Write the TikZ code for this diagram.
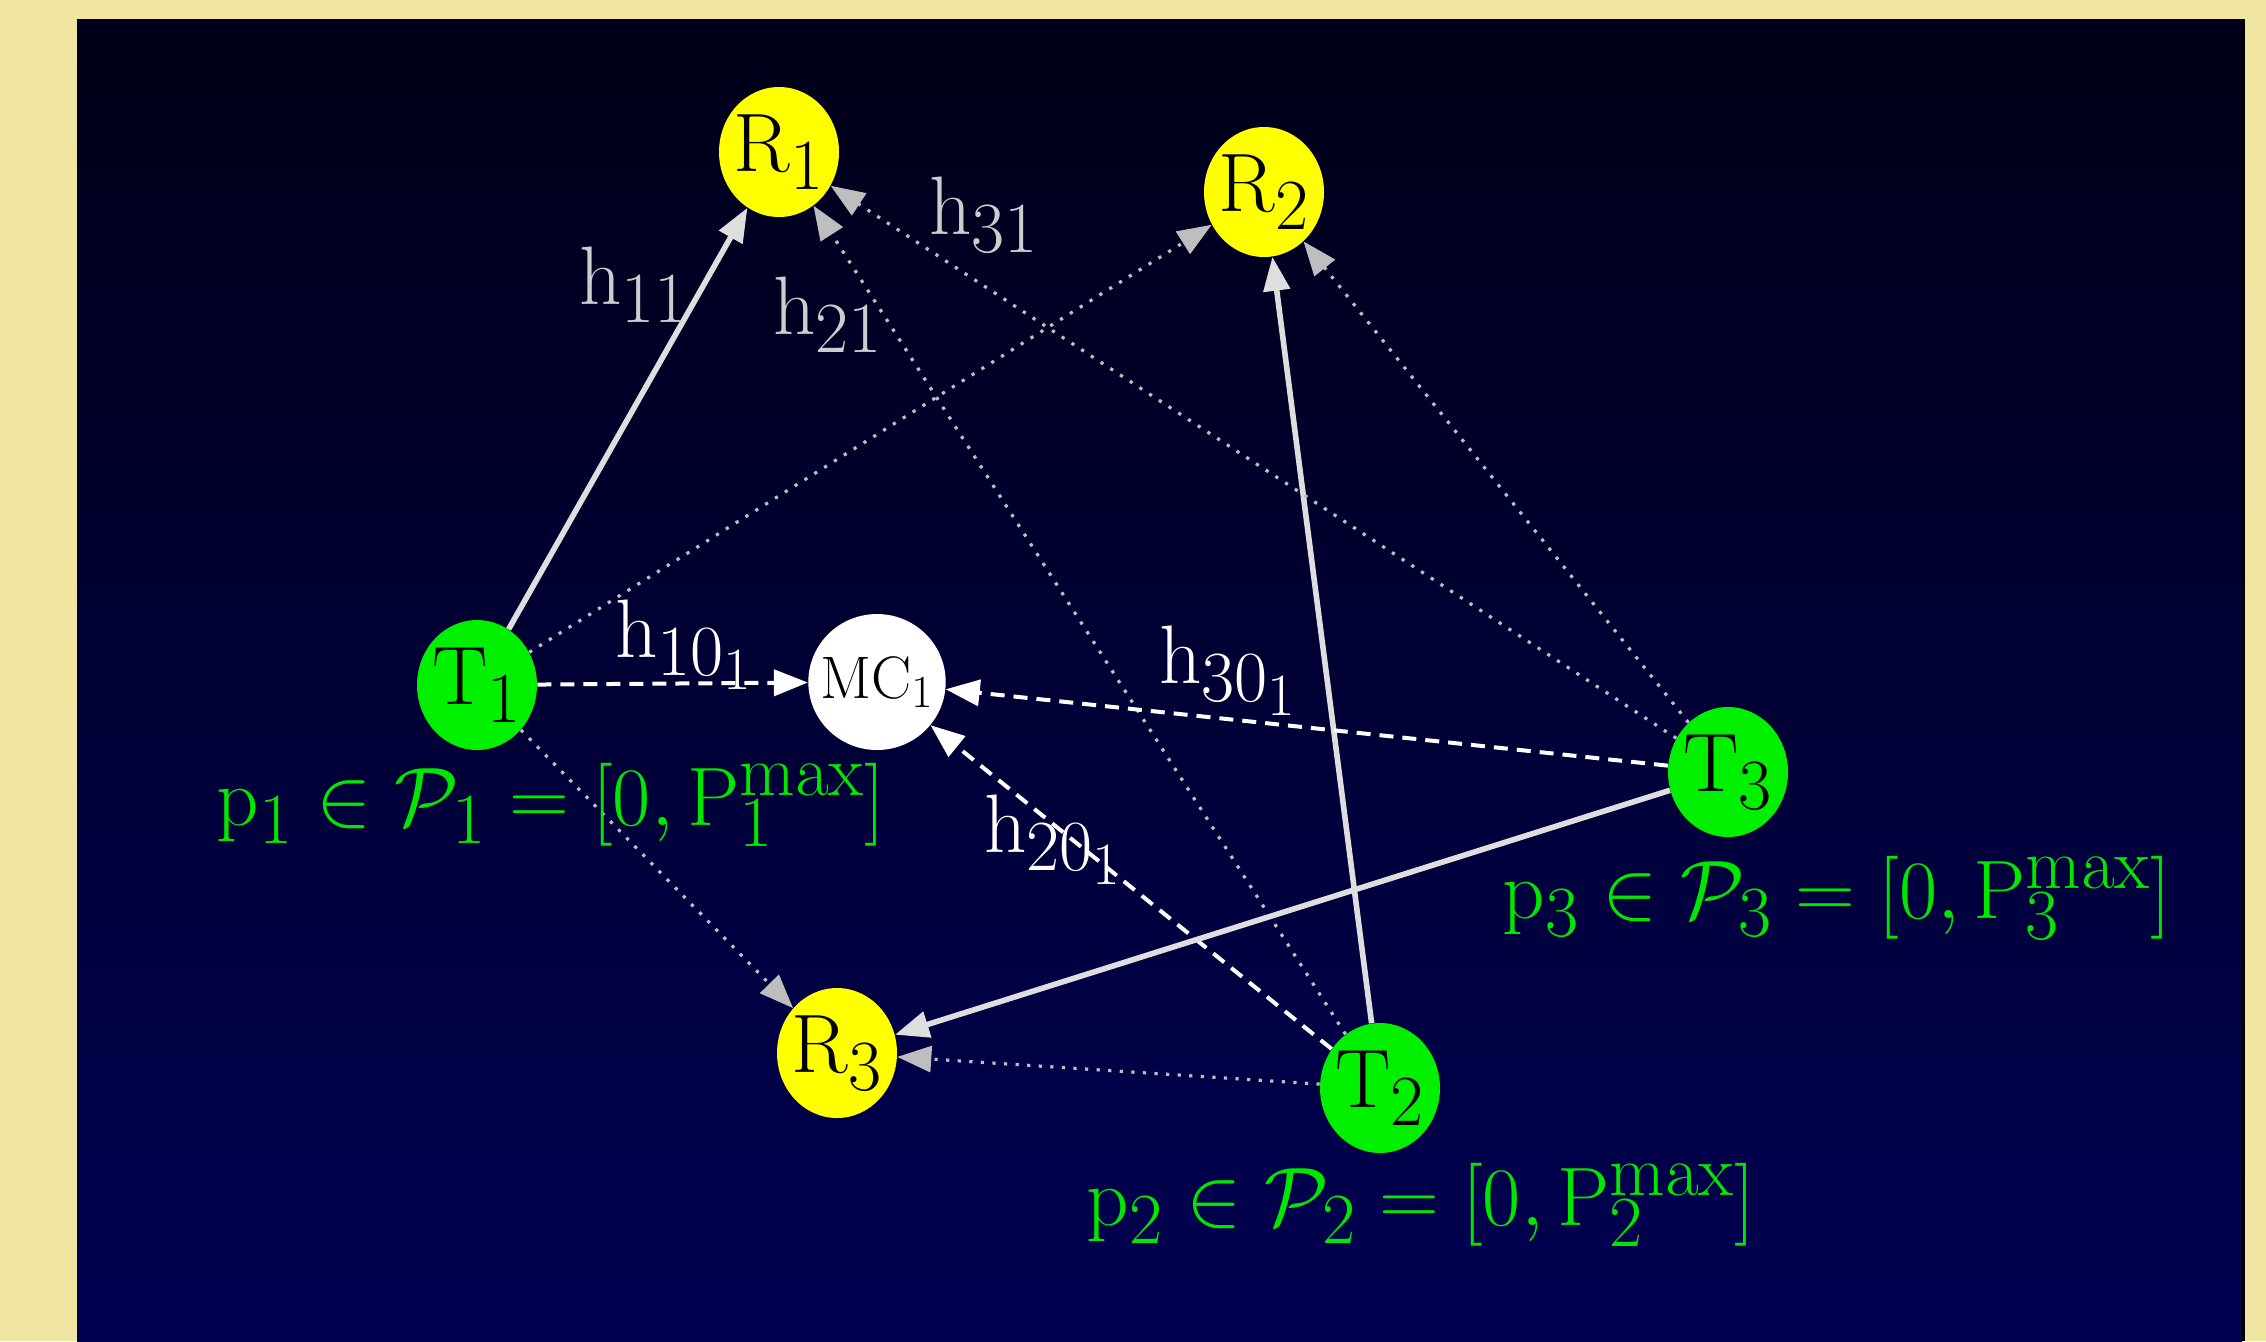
\RequirePackage{fix-cm}
\documentclass[tikz,border=0pt]{standalone}
\usetikzlibrary{arrows.meta,shapes.geometric}
\DeclareMathSizes{41.5}{41.5}{36}{30}
\DeclareMathSizes{30}{30}{23}{17}
\definecolor{beige}{RGB}{240,230,162}
\definecolor{paneltop}{RGB}{0,0,24}
\definecolor{panelbot}{RGB}{0,0,82}
\definecolor{lgray}{RGB}{222,222,222}
\definecolor{dgray}{RGB}{190,190,190}
\definecolor{lblgray}{RGB}{205,205,205}
\definecolor{nodegreen}{RGB}{0,240,0}
\definecolor{txtgreen}{RGB}{0,232,0}
\definecolor{nodeyellow}{RGB}{255,255,0}
\begin{document}
\begin{tikzpicture}[x=0.5pt,y=-0.5pt,
  bigfont/.style={font=\fontsize{41.5}{41.5}\selectfont},
  basenode/.style={ellipse, inner xsep=-5pt, inner ysep=0pt, minimum width=60pt, minimum height=65pt, text=black, bigfont},
  rnode/.style={basenode, fill=nodeyellow},
  tnode/.style={basenode, fill=nodegreen},
  mcnode/.style={ellipse, inner xsep=-4pt, inner ysep=0pt, minimum width=61pt, minimum height=68pt, fill=white, text=black, font=\fontsize{30}{30}\selectfont},
  tip/.style={-{Triangle[length=17pt,width=13pt]}},
  solidedge/.style={draw=lgray, line width=2.8pt, tip},
  dotedge/.style={draw=dgray, line width=1.6pt, dash pattern=on 1.6pt off 4.2pt, tip},
  dashedge/.style={draw=white, line width=2pt, dash pattern=on 7pt off 4.5pt, tip},
  glabel/.style={text=lblgray, bigfont, inner sep=0pt},
  wlabel/.style={text=white, bigfont, inner sep=0pt},
  plabel/.style={text=txtgreen, bigfont, inner sep=0pt}
]
\useasboundingbox (0,0) rectangle (2266,1341);
\fill[beige] (0,0) rectangle (2266,1341);
\shade[top color=paneltop, bottom color=panelbot] (77,19) rectangle (2242,1341);
\fill[black] (2242,19) rectangle (2245,1341);

% nodes
\node[rnode] (R1) at (779,152) {$\mathrm{R}_1$};
\node[rnode] (R2) at (1264,192) {$\mathrm{R}_2$};
\node[rnode] (R3) at (837,1053) {$\mathrm{R}_3$};
\node[tnode] (T1) at (477,685) {$\mathrm{T}_1$};
\node[tnode] (T2) at (1380,1088) {$\mathrm{T}_2$};
\node[tnode] (T3) at (1728,772) {$\mathrm{T}_3$};
\node[mcnode] (MC) at (877,682) {$\mathrm{MC}_1$};

% edges
\draw[solidedge] (T1) -- (R1);
\draw[dotedge] (T1) -- (R2);
\draw[dotedge] (T1) -- (R3);
\draw[dashedge] (T1) -- (MC);
\draw[solidedge] (T2) -- (R2);
\draw[dotedge] (T2) -- (R1);
\draw[dotedge] (T2) -- (R3);
\draw[dashedge] (T2) -- (MC);
\draw[dotedge] (T3) -- (R1);
\draw[dotedge] (T3) -- (R2);
\draw[solidedge] (T3) -- (R3);
\draw[dashedge] (T3) -- (MC);

% labels
\node[glabel] (l11) at (634,285) {$\mathrm{h}_{11}$};
\node[glabel] (l21) at (828,315) {$\mathrm{h}_{21}$};
\node[glabel] (l31) at (984,215) {$\mathrm{h}_{31}$};
\node[wlabel] (l10) at (684,645) {$\mathrm{h}_{10_1}$};
\node[wlabel] (l30) at (1228,671) {$\mathrm{h}_{30_1}$};
\node[wlabel] (l20) at (1053,840) {$\mathrm{h}_{20_1}$};

\node[plabel] (p1) at (551,805) {$\mathrm{p}_1\in\mathcal{P}_1=[0,\mathrm{P}_1^{\mathrm{max}}]$};
\node[plabel] (p3) at (1837,898) {$\mathrm{p}_3\in\mathcal{P}_3=[0,\mathrm{P}_3^{\mathrm{max}}]$};
\node[plabel] (p2) at (1421,1205) {$\mathrm{p}_2\in\mathcal{P}_2=[0,\mathrm{P}_2^{\mathrm{max}}]$};
\end{tikzpicture}
\end{document}
